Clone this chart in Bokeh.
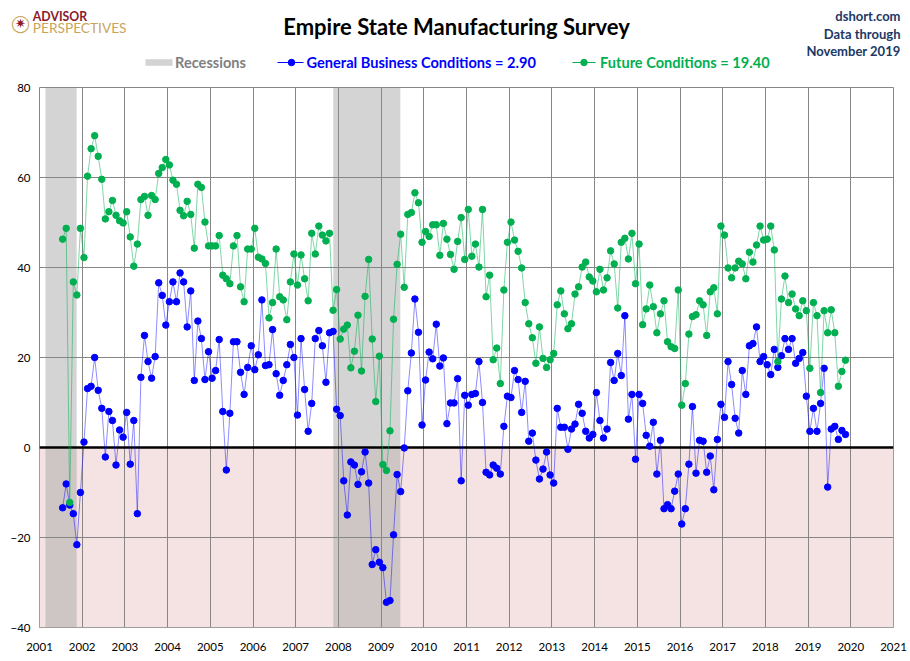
from bokeh.plotting import figure
from bokeh.layouts import column
from bokeh.models import Range1d, FixedTicker, Span
from bokeh.core.properties import value
from bokeh.embed import file_html
from bokeh.resources import INLINE

# ---------------- data ----------------
start_year, start_month = 2001, 7   # first observation: July 2001 (monthly)

general = [
    -13.4, -8.1, -12.8, -14.7, -21.6, -10.0, 1.2, 13.1, 13.6, 20.0, 12.7, 8.7,
    -2.1, 8.0, 6.0, -3.9, 3.9, 2.3, 7.8, -3.7, 6.0, -14.7, 15.6, 24.9,
    19.1, 15.4, 20.2, 36.6, 33.8, 27.2, 32.4, 36.8, 32.4, 38.8, 36.8, 26.8,
    34.8, 14.9, 28.1, 24.2, 15.1, 21.3, 15.4, 17.1, 24.0, 8.0, -5.0, 7.6,
    23.5, 23.5, 16.7, 11.8, 17.8, 22.6, 17.3, 20.6, 32.8, 18.2, 18.4, 26.2,
    16.4, 11.6, 14.9, 18.4, 22.9, 20.0, 7.2, 24.2, 12.9, 3.6, 9.8, 24.2,
    26.0, 22.6, 14.5, 25.5, 25.8, 8.5, 7.1, -7.4, -15.0, -3.2, -3.9, -8.2,
    -5.4, -1.0, -7.9, -26.0, -22.7, -25.5, -26.7, -34.4, -34.0, -19.4, -6.0, -9.8,
    -0.1, 12.6, 21.0, 33.0, 25.6, 5.0, 15.0, 21.2, 19.7, 27.4, 18.1, 19.9,
    5.3, 9.9, 9.9, 15.3, -7.4, 11.6, 9.4, 11.8, 12.0, 19.1, 10.0, -5.5,
    -6.1, -3.9, -4.6, -5.9, 4.7, 11.4, 11.1, 17.1, 15.1, 7.8, 14.7, 1.4,
    3.2, -2.8, -7.0, -4.8, -1.0, -6.1, -7.9, 8.7, 4.5, 4.5, -0.4, 4.1,
    5.2, 9.6, 7.6, 3.6, 2.1, 2.9, 12.2, 6.0, 2.1, 4.1, 18.9, 14.9,
    20.9, 16.0, 29.3, 6.3, 11.8, -2.6, 11.8, 9.8, 2.7, 0.3, 5.6, -5.9,
    1.6, -13.6, -12.7, -13.6, -9.7, -5.9, -17.0, -13.6, -3.7, 9.1, -5.7, 1.6,
    1.4, -5.5, -1.9, -9.4, 1.8, 9.6, 6.7, 19.1, 14.0, 6.5, 3.2, 17.1,
    11.8, 22.6, 23.1, 26.8, 19.1, 20.2, 18.4, 16.2, 21.8, 17.8, 20.4, 24.2,
    21.8, 24.2, 18.7, 19.8, 21.1, 11.4, 3.6, 8.7, 3.6, 9.8, 17.6, -8.8,
    4.1, 4.7, 1.8, 3.8, 2.9,
]

future = [
    46.3, 48.7, -12.2, 36.8, 33.9, 48.7, 42.2, 60.3, 66.4, 69.3, 64.7, 59.6,
    50.8, 52.4, 54.9, 51.6, 50.4, 49.9, 52.4, 46.8, 40.3, 45.2, 55.1, 55.8,
    51.6, 56.0, 55.1, 60.9, 62.2, 64.0, 62.8, 59.4, 58.5, 52.7, 51.5, 54.7,
    51.8, 44.3, 58.5, 57.8, 50.1, 44.8, 44.8, 44.8, 47.1, 38.3, 37.5, 36.4,
    44.8, 47.1, 35.7, 32.4, 44.1, 44.1, 48.7, 42.3, 41.9, 40.9, 28.8, 32.2,
    44.1, 33.5, 32.8, 28.4, 36.8, 43.0, 36.1, 42.8, 37.5, 32.6, 47.6, 43.0,
    49.2, 47.2, 45.9, 47.6, 30.5, 35.1, 24.1, 26.3, 27.2, 17.7, 21.4, 29.4,
    17.0, 33.6, 41.8, 24.1, 10.2, 20.3, -3.8, -5.1, 3.7, 28.5, 40.7, 47.4,
    35.6, 51.8, 52.2, 56.6, 54.4, 45.6, 48.0, 46.9, 49.5, 49.5, 42.7, 49.8,
    46.3, 42.9, 39.6, 45.8, 51.1, 41.8, 52.9, 42.5, 45.2, 40.1, 52.9, 33.5,
    38.3, 19.5, 22.1, 14.2, 35.0, 45.6, 50.1, 46.1, 43.6, 39.9, 32.2, 27.5,
    24.4, 18.7, 26.8, 19.8, 17.8, 19.5, 20.9, 31.7, 34.8, 29.7, 26.4, 27.5,
    34.1, 35.7, 40.1, 41.2, 37.9, 37.0, 34.6, 39.6, 35.0, 37.7, 43.7, 40.8,
    31.0, 45.6, 46.5, 41.9, 47.6, 36.4, 45.2, 27.3, 30.8, 36.1, 31.3, 25.5,
    29.7, 32.6, 23.5, 22.4, 22.0, 35.0, 9.4, 14.2, 25.2, 29.1, 29.5, 32.6,
    31.7, 24.9, 34.6, 35.5, 29.7, 49.2, 47.2, 39.9, 37.7, 39.9, 41.4, 40.8,
    37.5, 43.4, 41.2, 45.0, 49.2, 46.1, 46.3, 49.2, 43.9, 19.1, 33.0, 38.1,
    32.2, 34.1, 30.8, 29.3, 32.6, 30.4, 17.6, 32.2, 29.3, 12.2, 30.4, 25.5,
    30.6, 25.5, 13.6, 16.9, 19.4,
]

rec_start = [2001.14, 2007.88]   # recession periods (decimal years)
rec_end = [2001.87, 2009.45]
year_ticks = list(range(2001, 2022))
value_ticks = list(range(-40, 81, 20))

title_text = "Empire State Manufacturing Survey"
legend_rec = "Recessions"
legend_gen = "General Business Conditions = 2.90"
legend_fut = "Future Conditions = 19.40"
source_lines = ["dshort.com", "Data through", "November 2019"]

# monthly x positions (middle of each month)
x = [start_year + (start_month - 1 + i + 0.5) / 12.0 for i in range(len(general))]

BLUE = "#0000FF"
GREEN = "#00B050"
FONT = "Lato"
W = 910
FRAME_L, FRAME_R = 39, 893     # horizontal extent of the (aligned) plot frames

# ---------------- header (title, logo, legend) ----------------
H_HDR = 82
hdr = figure(width=W, height=H_HDR, x_range=Range1d(FRAME_L, FRAME_R), y_range=Range1d(H_HDR, 0),
             output_backend="svg", toolbar_location=None,
             x_axis_type=None, y_axis_type=None,
             min_border_left=FRAME_L, min_border_right=W - FRAME_R,
             min_border_top=0, min_border_bottom=0)
hdr.grid.visible = False
hdr.outline_line_color = None
LV = "overlay"

# logo (compass ring + star, drawn as text symbols)
hdr.text(x=[20], y=[22.5], text=["\u25EF"], text_font=value("DejaVu Sans"), text_font_size="17px",
         text_font_style="bold", text_color="#C9A55A", text_align="center",
         text_baseline="middle", level=LV)
hdr.text(x=[20], y=[22.5], text=["\u2737"], text_font=value("DejaVu Sans"), text_font_size="13px",
         text_color="#8B1A2B", text_align="center", text_baseline="middle", level=LV)
hdr.text(x=[32.3], y=[16.3], text=["ADVISOR"], text_font=value(FONT), text_font_size="12.3px",
         text_font_style="bold", text_color="#8B1A2B", text_align="left", text_baseline="middle",
         level=LV)
hdr.text(x=[32.3], y=[27], text=["PERSPECTIVES"], text_font=value(FONT), text_font_size="13.7px",
         text_color="#C9A55A", text_align="left", text_baseline="middle", level=LV)

# title
hdr.text(x=[456], y=[26], text=[title_text], text_font=value(FONT), text_font_size="22px",
         text_font_style="bold", text_color="black", text_align="center", text_baseline="middle",
         level=LV)

# source text, top right
hdr.text(x=[900, 900, 900], y=[15.7, 33.2, 50.8], text=source_lines, text_font=value(FONT),
         text_font_size="13px", text_font_style="bold", text_color="#203864",
         text_align="right", text_baseline="middle", level=LV)

# legend
LY = 62
hdr.quad(left=[145], right=[172], top=[LY - 3.3], bottom=[LY + 3.3], fill_color="#D3D3D3",
         line_color=None, level=LV)
hdr.text(x=[174.5], y=[LY], text=[legend_rec], text_font=value(FONT), text_font_size="14.6px",
         text_font_style="bold", text_color="#7F7F7F", text_align="left", text_baseline="middle",
         level=LV)
hdr.line(x=[277, 303], y=[LY, LY], line_color=BLUE, line_width=1, level=LV)
hdr.scatter(x=[291], y=[LY], size=6.5, fill_color=BLUE, line_color=BLUE, level=LV)
hdr.text(x=[306], y=[LY], text=[legend_gen], text_font=value(FONT), text_font_size="14.6px",
         text_font_style="bold", text_color=BLUE, text_align="left", text_baseline="middle",
         level=LV)
hdr.line(x=[572, 595], y=[LY, LY], line_color=GREEN, line_width=1, level=LV)
hdr.scatter(x=[583.5], y=[LY], size=6.5, fill_color=GREEN, line_color=GREEN, level=LV)
hdr.text(x=[599.5], y=[LY], text=[legend_fut], text_font=value(FONT), text_font_size="14.6px",
         text_font_style="bold", text_color=GREEN, text_align="left", text_baseline="middle",
         level=LV)

# ---------------- main chart ----------------
p = figure(width=W, height=661 - H_HDR, x_range=Range1d(year_ticks[0], year_ticks[-1]),
           y_range=Range1d(value_ticks[0], value_ticks[-1]),
           output_backend="svg", toolbar_location=None,
           min_border_left=FRAME_L, min_border_right=W - FRAME_R, min_border_top=5,
           min_border_bottom=34)

# below-zero pink zone and recession bands (under the grid)
p.quad(left=[year_ticks[0]], right=[year_ticks[-1]], bottom=[value_ticks[0]], top=[0],
       fill_color="#F5E3E3", line_color=None, level="image")
p.quad(left=rec_start, right=rec_end, bottom=value_ticks[0], top=value_ticks[-1],
       fill_color="#9F9F9F", fill_alpha=0.45, line_color=None, level="image")

p.xaxis.ticker = FixedTicker(ticks=year_ticks)
p.yaxis.ticker = FixedTicker(ticks=value_ticks)
p.grid.grid_line_color = "#868686"
p.grid.grid_line_width = 1
p.grid.grid_line_alpha = 1
p.outline_line_color = "#868686"
p.axis.axis_line_color = None
p.axis.major_tick_line_color = None
p.axis.minor_tick_line_color = None
p.axis.major_tick_out = 0
p.axis.major_tick_in = 0
p.axis.major_label_text_font = FONT
p.axis.major_label_text_font_size = "11.5px"
p.axis.major_label_text_color = "black"
p.yaxis.major_label_standoff = 9
p.xaxis.major_label_standoff = 15

zero = Span(location=0, dimension="width", line_color="black", line_width=2.5, level="underlay")
p.add_layout(zero)

p.line(x, general, line_color=BLUE, line_alpha=0.45, line_width=1)
p.scatter(x, general, size=6.5, fill_color=BLUE, line_color=BLUE)
p.line(x, future, line_color=GREEN, line_alpha=0.5, line_width=1)
p.scatter(x, future, size=6.5, fill_color=GREEN, line_color=GREEN)

layout = column(hdr, p, spacing=0)
open("out.html", "w").write(file_html(layout, INLINE, title=title_text))
